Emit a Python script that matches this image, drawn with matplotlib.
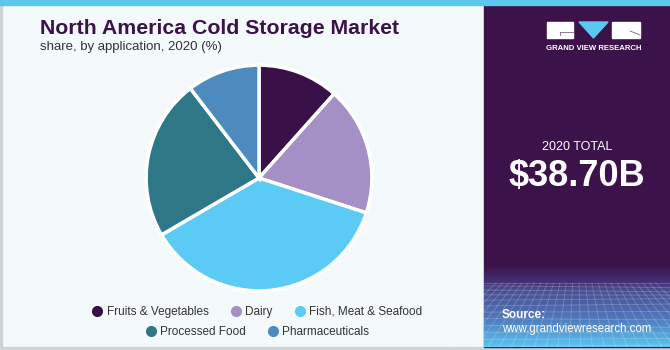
import numpy as np
import matplotlib.pyplot as plt
import matplotlib.colors as colors
from matplotlib.patches import Rectangle, Polygon
from matplotlib.lines import Line2D

plt.rcParams['font.family'] = ['Liberation Sans', 'DejaVu Sans']

# share by application, 2020 (%)
segments = ['Fruits & Vegetables', 'Dairy', 'Fish, Meat & Seafood',
            'Processed Food', 'Pharmaceuticals']
shares = [11.6, 18.4, 36.6, 23.0, 10.4]
seg_colors = ['#3a1049', '#a490c5', '#5bcaf5', '#2e7786', '#4d8bbf']

title = 'North America Cold Storage Market'
subtitle = 'share, by application, 2020 (%)'
total_label = '2020 TOTAL'
total_value = '$38.70B'

PURPLE = '#3b1249'
BG = '#f4f9fc'
W, H = 670, 350

fig = plt.figure(figsize=(6.7, 3.5), dpi=100)
fig.patch.set_facecolor(BG)

# full-figure canvas in pixel units for the panels and decorations
bg = fig.add_axes([0, 0, 1, 1], zorder=0)
bg.set_xlim(0, W)
bg.set_ylim(H, 0)
bg.axis('off')

bg.add_patch(Rectangle((0, 0), 1.5, H, color='#cfd3d6'))
bg.add_patch(Rectangle((0, H - 3), W, 3, color='#cfd3d6'))
bg.add_patch(Rectangle((484, 0), W - 484, H - 3, color=PURPLE))
bg.add_patch(Rectangle((0, 0), W, 5, color='#5bc8f0'))

# source footer gradient
stops = [(0.0, colors.to_rgb(PURPLE)),
         (0.22, colors.to_rgb('#46337a')),
         (0.3, colors.to_rgb('#4a4d90')),
         (0.65, colors.to_rgb('#4f78bb')),
         (1.0, colors.to_rgb('#5cc4f0'))]
cmap = colors.LinearSegmentedColormap.from_list('foot', stops)
grad = np.linspace(0, 1, 200).reshape(-1, 1)
bg.imshow(grad, cmap=cmap, aspect='auto', extent=[484, W, H - 3, 265],
          zorder=1)

# faint wireframe floor
for i in range(12):
    y = 283 + 64 * (i / 11) ** 1.3
    bg.plot([484, W], [y, y + 2 * np.sin(i)], color='white', alpha=0.22,
            lw=0.6, zorder=2)
for x0 in np.linspace(430, 720, 26):
    bg.plot([577 + (x0 - 577) * 0.55, x0], [283, H - 3], color='white',
            alpha=0.22, lw=0.6, zorder=2)

# logo
bg.add_patch(Rectangle((547, 22), 26, 16, color='white', zorder=3))
bg.add_patch(Polygon([(579, 22), (608, 22), (593.5, 38)], closed=True,
                     color='#5bc8f0', zorder=3))
bg.add_patch(Rectangle((612, 22), 28, 16, color='white', zorder=3))
bg.plot([560, 573], [32, 32], color='#7a6a8a', lw=0.6, zorder=4)
bg.plot([560, 560], [32, 35], color='#7a6a8a', lw=0.6, zorder=4)
bg.plot([630, 640], [31, 35], color='#7a6a8a', lw=0.6, zorder=4)
bg.text(593.5, 48, 'GRAND VIEW RESEARCH', color='white', fontsize=5.6,
        fontweight='bold', ha='center', va='center', zorder=4)

# headline figure
bg.text(577, 150, total_label, color='white', fontsize=9,
        ha='center', va='baseline')
bg.text(577, 186, total_value, color='white', fontsize=26,
        fontweight='bold', ha='center', va='baseline')

bg.text(502, 315, 'Source:', color='white', fontsize=8.5,
        fontweight='bold', ha='left', va='center', zorder=4)
bg.text(502, 329, 'www.grandviewresearch.com', color='white', fontsize=8.3,
        ha='left', va='center', zorder=4)

# titles
bg.text(40, 28, title, color=PURPLE, fontsize=15.3, fontweight='bold',
        ha='left', va='center')
bg.text(40, 47, subtitle, color='#333333', fontsize=9.5,
        ha='left', va='center')

# pie
cx, cy, r = 259, 178, 114
pie_ax = fig.add_axes([(cx - r) / W, (H - cy - r) / H, 2 * r / W, 2 * r / H],
                      zorder=2)
pie_ax.pie(shares, colors=seg_colors, startangle=90, counterclock=False,
           wedgeprops=dict(edgecolor='white', linewidth=2.5))
pie_ax.set_xlim(-1.01, 1.01)
pie_ax.set_ylim(-1.01, 1.01)
pie_ax.set_aspect('equal')

handles = [Line2D([], [], marker='o', linestyle='', markersize=7,
                  markerfacecolor=c, markeredgecolor=c) for c in seg_colors]
leg_kw = dict(frameon=False, fontsize=8.5, handletextpad=0.3,
              columnspacing=1.8, handlelength=1.0, borderpad=0,
              labelcolor='#333333')
leg1 = fig.legend(handles[:3], segments[:3], ncol=3, loc='center',
                  bbox_to_anchor=(257 / W, 1 - 312 / H), **leg_kw)
leg2 = fig.legend(handles[3:], segments[3:], ncol=2, loc='center',
                  bbox_to_anchor=(257 / W, 1 - 332 / H), **leg_kw)

fig.savefig('out.png', dpi=100, facecolor=fig.get_facecolor())
